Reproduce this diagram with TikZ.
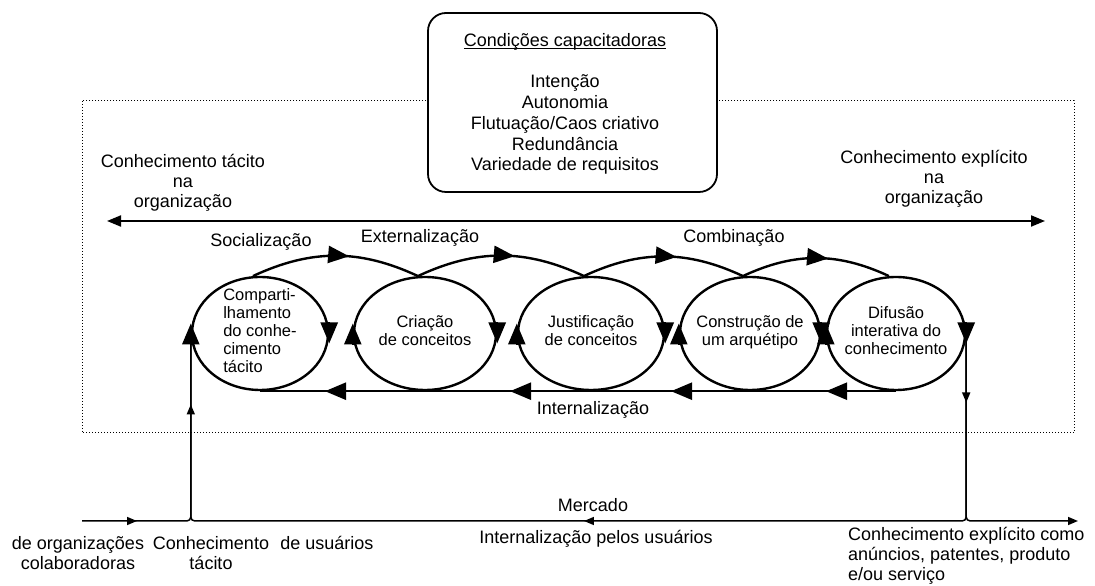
\documentclass[tikz,border=0pt]{standalone}
\usepackage{fontspec}
\setmainfont{Liberation Sans}
\usetikzlibrary{arrows.meta,shapes.geometric,decorations.markings}
\newcommand{\myul}[1]{{\setbox0\hbox{#1}\rlap{\rule[-2.6pt]{\wd0}{0.9pt}}\box0}}
\newcommand{\etext}[2]{\makebox[0pt]{\smash{\raisebox{-4pt}{\begin{tabular}{@{}#1@{}}#2\end{tabular}}}}}
\tikzset{
  BigTri/.tip={Triangle[length=21pt,width=17pt]},
  SmallTri/.tip={Triangle[length=10pt,width=8pt]},
  MidTri/.tip={Triangle[length=14pt,width=11pt]},
  lbl/.style={font=\fontsize{18}{20}\selectfont, align=center, inner sep=0pt},
  ell/.style={ellipse, draw, line width=2.4pt, minimum height=113pt, inner sep=0pt,
    font=\fontsize{16.5}{18}\selectfont},
  elarrow/.style={line width=2.4pt, -{BigTri}},
  cyc/.style={line width=2.4pt, postaction={decorate},
    decoration={markings, mark=at position 0.58 with {\arrow{BigTri}}}},
  mkt/.style={line width=1.5pt},
  condbox/.style={draw, line width=1.8pt, rounded corners=18pt, fill=white,
    minimum width=289pt, minimum height=179pt},
  orgframe/.style={line width=1pt, dash pattern=on 1pt off 2pt}
}
\begin{document}
\begin{tikzpicture}[x=1pt,y=1pt]
\useasboundingbox (0,0) rectangle (1095,586);

% dotted organisation frame and enabling-conditions box
\draw[orgframe] (82,485) rectangle (1074,153);
\node[condbox] (cond) at (572.5,483.5) {};
\node[font=\fontsize{18}{20.75}\selectfont, align=center, inner sep=0pt] (condtxt) at (565,482)
  {\myul{Condições capacitadoras}\\[20.75pt]Intenção\\Autonomia\\Flutuação/Caos criativo\\Redundância\\Variedade de requisitos};

% tacit <-> explicit arrow
\node[lbl] (tac) at (183,403.5) {Conhecimento tácito\\na\\organização};
\node[lbl] (exp) at (934,407) {Conhecimento explícito\\na\\organização};
\coordinate (aL) at (107,365);
\coordinate (aR) at (1045,365);
\draw[line width=2pt, {MidTri}-{MidTri}] (aL) -- (aR);

% the five phases
\node[ell, minimum width=136pt] (e1) at (260,252.5) {\etext{l}{Comparti-\\lhamento\\do conhe-\\cimento\\tácito}};
\node[ell, minimum width=142pt] (e2) at (425,252.5) {\etext{c}{Criação\\de conceitos}};
\node[ell, minimum width=146pt] (e3) at (591,252.5) {\etext{c}{Justificação\\de conceitos}};
\node[ell, minimum width=140pt] (e4) at (750,252.5) {\etext{c}{Construção de\\um arquétipo}};
\node[ell, minimum width=138pt] (e5) at (896,252.5) {\etext{c}{Difusão\\interativa do\\conhecimento}};

\foreach \e in {e1,e2,e3,e4,e5} {
  \draw[elarrow] ([yshift=11pt]\e.east) -- ([yshift=-10pt]\e.east);
  \draw[elarrow] ([yshift=-11pt]\e.west) -- ([yshift=10pt]\e.west);
}
\foreach \a/\b in {e1/e2,e2/e3,e3/e4,e4/e5}
  \draw[cyc] (\a.97) to[out=25,in=155] (\b.97);

\draw[line width=2.4pt, postaction={decorate}, decoration={markings,
    mark=at position 70pt with {\arrow{BigTri}},
    mark=at position 225pt with {\arrow{BigTri}},
    mark=at position 386pt with {\arrow{BigTri}},
    mark=at position 571pt with {\arrow{BigTri}}}]
  (e5.south) -- (e1.south);

\node[lbl] (soc) at (261,344) {Socialização};
\node[lbl] (ext) at (420,348) {Externalização};
\node[lbl] (com) at (734,348) {Combinação};
\node[lbl] (int) at (593,176) {Internalização};

% market
\coordinate (mL) at (82,65);
\coordinate (mR) at (1078,65);
\coordinate (J1) at (e1.west |- mL);
\coordinate (J2) at (e5.east |- mL);
\draw[mkt, rounded corners=4pt, postaction={decorate},
  decoration={markings, mark=at position 55pt with {\arrow{SmallTri}}}]
  (mL) -- (J1) -- (e1.west);
\draw[mkt, rounded corners=4pt, -{SmallTri}] (e5.east) -- (J2) -- (mR);
\draw[mkt, rounded corners=4pt, postaction={decorate}, decoration={markings,
    mark=at position 69pt with {\arrow{SmallTri}},
    mark=at position 568pt with {\arrow{SmallTri}},
    mark=at position 1076pt with {\arrow{SmallTri}}}]
  (e5.east) -- (J2) -- (J1) -- (e1.west);

\node[lbl] (merc) at (593,81) {Mercado};
\node[lbl] (intu) at (596,47) {Internalização pelos usuários};
\node[lbl] (colab) at (78,33) {de organizações\\colaboradoras};
\node[lbl] (ctac) at (211,33) {Conhecimento\\tácito};
\node[lbl] (usu) at (327,43) {de usuários};
\node[lbl, align=left, anchor=west] (cexp) at (848,30) {Conhecimento explícito como\\anúncios, patentes, produto\\e/ou serviço};
\end{tikzpicture}
\end{document}
